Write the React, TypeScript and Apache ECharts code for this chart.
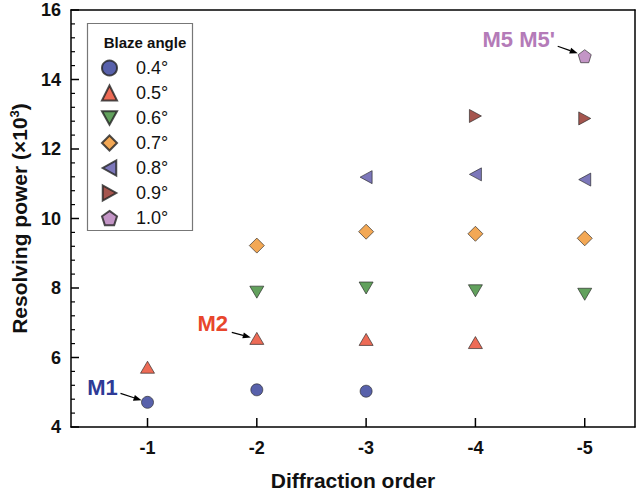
import React, { useEffect, useRef } from "react";
import * as echarts from "echarts";

const ORDERS = [-1, -2, -3, -4, -5];
const ANGLES = ["0.4°", "0.5°", "0.6°", "0.7°", "0.8°", "0.9°", "1.0°"];
const S04 = [4.71, 5.07, 5.03, null, null];
const S05 = [5.72, 6.55, 6.52, 6.43, null];
const S06 = [null, 7.88, 8.0, 7.92, 7.82];
const S07 = [null, 9.22, 9.62, 9.56, 9.43];
const S08 = [null, null, 11.19, 11.27, 11.12];
const S09 = [null, null, null, 12.95, 12.88];
const S10 = [null, null, null, null, 14.67];
const VALUES = [S04, S05, S06, S07, S08, S09, S10];
const X_MIN = -5.46;
const X_MAX = -0.3;
const Y_MIN = 4;
const Y_MAX = 16;
const Y_STEP = 2;
const Y_MAJOR_TICKS = [4, 6, 8, 10, 12, 14, 16];
const Y_MINOR_PER_MAJOR = 5;

const COLORS = ["#2E3A96", "#E8462C", "#3B8A35", "#F0922B", "#5B55A9", "#8E2A22", "#B47BB8"];
const SYMBOLS = [
  "circle",
  "triangle",
  "path://M0,0 L10,0 L5,9 Z",
  "diamond",
  "path://M9,0 L9,10 L0,5 Z",
  "path://M0,0 L0,10 L9,5 Z",
  "path://M5,0 L10,3.6 L8.1,9.5 L1.9,9.5 L0,3.6 Z",
];
const SIZES: any[] = [12, [14, 12], [14, 12], 15, [12, 13], [12, 13], 13];

const ANNOTATIONS = [
  { text: "M1", series: 0, idx: 0, color: "#2E3A96" },
  { text: "M2", series: 1, idx: 1, color: "#E8462C" },
  { text: "M5 M5'", series: 6, idx: 4, color: "#B47BB8" },
];
// text center offset, arrow start offset, arrow end offset relative to point (pixels)
const ANN_LAYOUT = [
  { tx: -45, ty: -15, sx: -27, sy: -9, ex: -6, ey: -2 },
  { tx: -44, ty: -15, sx: -25, sy: -6, ex: -6, ey: -1 },
  { tx: -66, ty: -17, sx: -27, sy: -10, ex: -7, ey: -3 },
];

const FONT = "Liberation Sans, Arial, Helvetica, sans-serif";

export default function App() {
  const ref = useRef<HTMLDivElement>(null);
  useEffect(() => {
    if (!ref.current) return;
    const chart = echarts.init(ref.current, null, { renderer: "svg" });
    const series: any[] = VALUES.map((vals, si) => ({
      name: ANGLES[si],
      type: "scatter",
      xAxisIndex: 0,
      yAxisIndex: 0,
      symbol: SYMBOLS[si],
      symbolSize: SIZES[si],
      z: 3,
      itemStyle: { color: COLORS[si], borderColor: "#222", borderWidth: 0.8 },
      data: ORDERS.map((x, i) => (vals[i] == null ? null : [x, vals[i]])).filter((d) => d !== null),
    }));

    const frameLine = { show: true, onZero: false, lineStyle: { color: "#000", width: 1.5 } };
    chart.setOption({
      animation: false,
      backgroundColor: "#fff",
      textStyle: { fontFamily: FONT },
      grid: { left: 64, right: 5, top: 10, bottom: 63 },
      legend: {
        orient: "vertical",
        left: 101,
        top: 59,
        padding: 0,
        itemWidth: 15,
        itemHeight: 15,
        itemGap: 7,
        selectedMode: false,
        data: ANGLES,
        textStyle: {
          fontFamily: FONT,
          fontSize: 18,
          color: "#111",
          lineHeight: 16,
          padding: [0, 0, 0, 14],
        },
      },
      xAxis: [
        {
          type: "value",
          inverse: true,
          min: X_MIN,
          max: X_MAX,
          name: "Diffraction order",
          nameLocation: "middle",
          nameGap: 43,
          nameTextStyle: { fontFamily: FONT, fontSize: 21, fontWeight: "bold", color: "#111" },
          axisLine: frameLine,
          axisTick: { show: false },
          axisLabel: {
            customValues: ORDERS,
            fontFamily: FONT,
            fontSize: 18,
            fontWeight: "bold",
            color: "#111",
            margin: 12,
            formatter: (v: number) => String(v),
          },
          splitLine: { show: false },
        },
        {
          type: "value",
          position: "top",
          inverse: true,
          min: X_MIN,
          max: X_MAX,
          axisLine: frameLine,
          axisTick: { show: false },
          axisLabel: { show: false },
          splitLine: { show: false },
        },
      ],
      yAxis: [
        {
          type: "value",
          min: Y_MIN,
          max: Y_MAX,
          interval: Y_STEP,
          name: "{a|Resolving power (×10}{s|3}{a|)}",
          nameLocation: "middle",
          nameGap: 40,
          nameRotate: 90,
          nameTextStyle: {
            rich: {
              a: { fontFamily: FONT, fontSize: 21, fontWeight: "bold", color: "#111" },
              s: { fontFamily: FONT, fontSize: 13, fontWeight: "bold", color: "#111", verticalAlign: "top", padding: [0, 0, 10, 0] },
            },
          },
          axisLine: frameLine,
          axisTick: { show: false },
          axisLabel: { fontFamily: FONT, fontSize: 18, fontWeight: "bold", color: "#111", margin: 10 },
          splitLine: { show: false },
        },
        {
          type: "value",
          position: "right",
          min: Y_MIN,
          max: Y_MAX,
          interval: Y_STEP,
          axisLine: frameLine,
          axisTick: { show: false },
          axisLabel: { show: false },
          splitLine: { show: false },
        },
      ],
      series,
    });

    const toPx = (x: number, y: number) =>
      chart.convertToPixel({ xAxisIndex: 0, yAxisIndex: 0 }, [x, y]) as number[];

    const graphics: any[] = [
      {
        type: "rect",
        shape: { x: 87.5, y: 23.5, width: 105, height: 207 },
        style: { fill: "none", stroke: "#777", lineWidth: 1.2 },
        z: 1,
      },
      {
        type: "text",
        x: 145,
        y: 42,
        style: {
          text: "Blaze angle",
          font: `bold 15px ${FONT}`,
          fill: "#111",
          align: "center",
          verticalAlign: "middle",
        },
      },
    ];

    // tick marks placed through the axis scales
    const leftX = toPx(X_MAX, Y_MIN)[0];
    const bottomY = toPx(X_MAX, Y_MIN)[1];
    const addYTick = (v: number, len: number, lw: number) => {
      const y = toPx(X_MAX, v)[1];
      graphics.push({
        type: "line",
        z: 50,
        shape: { x1: leftX, y1: y, x2: leftX + len, y2: y },
        style: { stroke: "#000", lineWidth: lw },
      });
    };
    Y_MAJOR_TICKS.forEach((v, i) => {
      addYTick(v, 8, 1.5);
      if (i < Y_MAJOR_TICKS.length - 1) {
        const step = (Y_MAJOR_TICKS[i + 1] - v) / Y_MINOR_PER_MAJOR;
        for (let k = 1; k < Y_MINOR_PER_MAJOR; k++) addYTick(v + step * k, 4, 1.2);
      }
    });
    ORDERS.forEach((xv) => {
      const x = toPx(xv, Y_MIN)[0];
      graphics.push({
        type: "line",
        z: 50,
        shape: { x1: x, y1: bottomY, x2: x, y2: bottomY - 9 },
        style: { stroke: "#000", lineWidth: 1.5 },
      });
    });

    ANNOTATIONS.forEach((a, k) => {
      const vals = VALUES[a.series];
      const p = toPx(ORDERS[a.idx], vals[a.idx] as number);
      const L = ANN_LAYOUT[k];
      const sx = p[0] + L.sx, sy = p[1] + L.sy, ex = p[0] + L.ex, ey = p[1] + L.ey;
      const dx = ex - sx, dy = ey - sy;
      const len = Math.sqrt(dx * dx + dy * dy);
      const ux = dx / len, uy = dy / len;
      const hl = 8, hw = 3;
      const bx = ex - ux * hl, by = ey - uy * hl;
      graphics.push(
        {
          type: "text",
          x: p[0] + L.tx,
          y: p[1] + L.ty,
          style: {
            text: a.text,
            font: `bold 22px ${FONT}`,
            fill: a.color,
            align: "center",
            verticalAlign: "middle",
          },
        },
        {
          type: "line",
          shape: { x1: sx, y1: sy, x2: bx, y2: by },
          style: { stroke: "#000", lineWidth: 1.2 },
        },
        {
          type: "polygon",
          shape: {
            points: [
              [ex, ey],
              [bx - uy * hw, by + ux * hw],
              [bx + uy * hw, by - ux * hw],
            ],
          },
          style: { fill: "#000" },
        }
      );
    });
    chart.setOption({ graphic: graphics });
    return () => chart.dispose();
  }, []);
  return <div ref={ref} style={{ width: 640, height: 496, position: "absolute", left: 0, top: 0 }} />;
}
